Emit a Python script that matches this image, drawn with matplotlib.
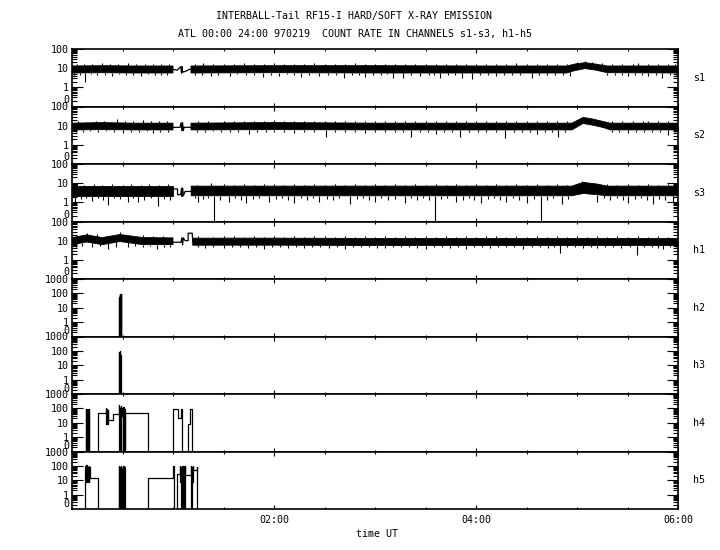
import numpy as np
import matplotlib
matplotlib.use("Agg")
import matplotlib.pyplot as plt
import matplotlib.transforms as mtransforms
from matplotlib.ticker import LogLocator, NullFormatter, MultipleLocator, FixedLocator

plt.rcParams['font.family'] = 'DejaVu Sans Mono'
plt.rcParams['font.size'] = 7.2

# ---- soft channels and h1: noisy band (knots), gap trace, dips and peaks (hours UT, counts) ----
# NaN in a band list = no data (gap around 01:00-01:10)
s1_t = [0.0, 0.3, 0.6, 1.0, 1.01, 1.17, 1.178, 2.0, 3.0, 4.0, 4.9, 4.98, 5.08, 5.18, 5.3, 6.0]
s1_lo = [5.6, 5.8, 5.6, 5.6, np.nan, np.nan, 5.6, 5.8, 5.6, 5.6, 5.6, 7.5, 9.5, 8.0, 5.8, 5.6]
s1_hi = [13.0, 13.5, 13.0, 13.0, np.nan, np.nan, 13.0, 13.5, 13.5, 13.0, 13.0, 16.5, 19.5, 16.5, 13.0, 13.0]
s1_gap_t = [1.0, 1.04, 1.076, 1.085, 1.09, 1.095, 1.102, 1.12, 1.162, 1.178]
s1_gap_v = [8.7, 7.8, 12.0, 5.4, 12.0, 6.0, 6.6, 6.6, 8.7, 8.7]
s1_dip_t = [0.02, 0.08, 0.13, 0.19, 0.25, 0.33, 0.4, 0.47, 0.53, 0.6, 0.68, 0.75, 0.82, 0.88, 0.94,
            1.22, 1.29, 1.38, 1.45, 1.56, 1.63, 1.72, 1.8, 1.89, 1.97, 2.05, 2.13, 2.2, 2.27, 2.35,
            2.45, 2.53, 2.61, 2.69, 2.77, 2.84, 2.9, 2.98, 3.06, 3.12, 3.18, 3.28, 3.36, 3.45, 3.53,
            3.58, 3.64, 3.72, 3.79, 3.86, 3.96, 4.04, 4.12, 4.2, 4.28, 4.36, 4.44, 4.55, 4.62, 4.7,
            4.78, 4.86, 4.93, 5.3, 5.38, 5.45, 5.5, 5.57, 5.64, 5.7, 5.78, 5.84, 5.92, 5.98]
s1_dip_v = [4.3, 4.6, 1.8, 4.7, 4.2, 4.6, 4.1, 4.8, 4.4, 4.2, 4.0, 4.7, 4.4, 4.2, 4.6,
            4.4, 4.6, 4.0, 4.6, 4.0, 4.7, 4.3, 4.6, 3.4, 4.6, 4.1, 4.7, 4.4, 3.4, 4.6,
            4.1, 4.6, 4.4, 3.2, 4.6, 4.2, 3.6, 4.6, 4.3, 4.7, 3.2, 2.9, 4.6, 3.9, 4.4,
            4.6, 3.2, 4.4, 4.6, 3.1, 2.7, 4.6, 4.2, 3.9, 4.6, 4.4, 4.6, 2.9, 4.4, 4.6,
            4.2, 4.6, 3.7, 4.6, 4.4, 4.2, 4.1, 4.6, 4.4, 3.9, 4.6, 2.9, 4.4, 4.6]
s1_peak_t = [0.05, 0.12, 0.2, 0.3, 0.38, 0.46, 0.55, 0.63, 0.72, 0.8, 0.88, 0.96,
             1.22, 1.3, 1.4, 1.5, 1.6, 1.7, 1.8, 1.9, 2.0, 2.1, 2.2, 2.3, 2.4, 2.5, 2.6, 2.7,
             2.8, 2.9, 3.0, 3.1, 3.2, 3.3, 3.4, 3.5, 3.6, 3.7, 3.8, 3.9, 4.0, 4.1, 4.2, 4.3,
             4.4, 4.5, 4.6, 4.7, 4.8, 4.9, 5.0, 5.08, 5.15, 5.25, 5.35, 5.45, 5.55, 5.6, 5.7,
             5.8, 5.9, 5.97]
s1_peak_v = [16, 17, 16, 19, 16, 17, 18, 16, 17, 16, 17, 16,
             17, 18, 16, 17, 16, 18, 16, 17, 18, 16, 17, 16, 18, 16, 17, 16,
             18, 16, 17, 16, 17, 16, 17, 16, 17, 16, 17, 16, 17, 16, 17, 16,
             18, 16, 17, 16, 17, 17, 21, 24, 22, 18, 16, 17, 16, 18, 16,
             17, 17, 16]

s2_t = [0.0, 0.3, 0.6, 1.0, 1.01, 1.17, 1.178, 2.0, 3.0, 4.0, 4.95, 5.06, 5.16, 5.26, 5.33, 6.0]
s2_lo = [6.0, 6.2, 6.0, 6.0, np.nan, np.nan, 6.0, 6.2, 6.0, 6.0, 6.0, 13.0, 10.5, 8.0, 6.0, 6.0]
s2_hi = [13.5, 14.5, 13.5, 13.5, np.nan, np.nan, 13.5, 14.5, 13.5, 13.5, 13.5, 27.0, 22.0, 16.5, 13.5, 13.5]
s2_gap_t = [1.0, 1.07, 1.08, 1.088, 1.095, 1.102, 1.11, 1.16, 1.178]
s2_gap_v = [8.2, 8.2, 14.4, 5.5, 14.4, 5.5, 8.2, 8.2, 8.2]
s2_dip_t = [0.04, 0.11, 0.18, 0.26, 0.34, 0.42, 0.5, 0.58, 0.66, 0.74, 0.8, 0.87, 0.95,
            1.24, 1.32, 1.4, 1.48, 1.56, 1.64, 1.75, 1.83, 1.92, 2.0, 2.1, 2.2, 2.3, 2.4, 2.51,
            2.6, 2.7, 2.8, 2.9, 3.0, 3.1, 3.2, 3.28, 3.36, 3.45, 3.52, 3.6, 3.68, 3.76, 3.84,
            3.93, 4.02, 4.1, 4.2, 4.29, 4.38, 4.46, 4.53, 4.6, 4.68, 4.75, 4.81, 4.88, 5.35,
            5.42, 5.5, 5.58, 5.66, 5.74, 5.82, 5.9, 5.97]
s2_dip_v = [4.8, 4.7, 5.0, 4.6, 5.0, 4.8, 4.2, 4.9, 4.6, 5.0, 4.4, 4.8, 4.6,
            4.9, 4.6, 5.0, 4.7, 4.9, 4.6, 3.6, 4.8, 4.6, 4.9, 4.6, 4.2, 4.8, 4.6, 2.5,
            4.9, 4.6, 4.8, 4.0, 4.7, 4.9, 4.6, 4.8, 2.5, 4.6, 4.9, 3.8, 4.7, 4.8, 2.6,
            4.6, 4.9, 4.7, 4.6, 2.4, 4.8, 4.6, 4.9, 3.8, 4.7, 4.8, 2.5, 4.6, 4.8,
            4.6, 4.0, 4.9, 4.6, 4.8, 4.6, 3.4, 4.8]
s2_peak_t = [0.06, 0.15, 0.24, 0.32, 0.45, 0.52, 0.6, 0.7, 0.78, 0.86, 0.94,
             1.25, 1.35, 1.5, 1.6, 1.7, 1.8, 1.9, 2.0, 2.1, 2.2, 2.3, 2.4, 2.5, 2.6, 2.7,
             2.8, 2.9, 3.0, 3.1, 3.2, 3.3, 3.4, 3.5, 3.6, 3.7, 3.8, 3.9, 4.0, 4.1, 4.2,
             4.3, 4.4, 4.5, 4.6, 4.7, 4.8, 4.9, 5.35, 5.45, 5.55, 5.65, 5.7, 5.8, 5.9]
s2_peak_v = [17, 16, 18, 17, 21, 18, 17, 19, 17, 18, 17,
             17, 18, 18, 17, 18, 17, 18, 19, 17, 18, 18, 17, 18, 17, 18,
             17, 18, 17, 18, 17, 18, 17, 18, 17, 18, 17, 18, 18, 17, 18,
             17, 18, 17, 18, 17, 18, 17, 17, 18, 17, 18, 18, 17, 18]

s3_t = [0.0, 0.5, 1.0, 1.01, 1.17, 1.18, 2.0, 3.0, 4.0, 4.95, 5.06, 5.2, 5.3, 6.0]
s3_lo = [2.2, 2.2, 2.2, np.nan, np.nan, 2.2, 2.2, 2.2, 2.2, 2.2, 2.9, 2.5, 2.2, 2.2]
s3_hi = [7.0, 7.0, 7.0, np.nan, np.nan, 7.0, 7.0, 7.0, 7.0, 7.0, 11.0, 9.0, 7.0, 7.0]
s3_gap_t = [1.0, 1.045, 1.045, 1.076, 1.085, 1.09, 1.095, 1.102, 1.12, 1.175, 1.18]
s3_gap_v = [5.0, 5.0, 2.5, 2.5, 5.5, 2.0, 5.5, 2.2, 3.7, 3.7, 3.7]
s3_dip_t = [0.03, 0.09, 0.14, 0.2, 0.26, 0.31, 0.36, 0.42, 0.48, 0.55, 0.6, 0.65, 0.71, 0.78, 0.85,
            0.91, 0.97, 1.22, 1.25, 1.3, 1.35, 1.41, 1.47, 1.55, 1.61, 1.67, 1.72, 1.79, 1.85,
            1.95, 2.02, 2.08, 2.14, 2.2, 2.27, 2.33, 2.39, 2.45, 2.52, 2.58, 2.64, 2.75, 2.82,
            2.88, 2.94, 3.0, 3.06, 3.13, 3.2, 3.3, 3.36, 3.42, 3.48, 3.53, 3.59, 3.65, 3.71,
            3.8, 3.87, 3.93, 3.98, 4.05, 4.12, 4.18, 4.24, 4.3, 4.37, 4.43, 4.5, 4.57, 4.64,
            4.7, 4.76, 4.85, 4.91, 5.2, 5.27, 5.33, 5.4, 5.46, 5.5, 5.57, 5.63, 5.69, 5.75,
            5.81, 5.87, 5.95]
s3_dip_v = [1.0, 1.5, 1.7, 1.2, 1.6, 1.4, 0.75, 1.7, 1.5, 1.1, 1.6, 1.0, 1.4, 1.7, 0.65,
            1.5, 1.3, 1.6, 1.0, 1.5, 1.7, 0.0, 1.4, 1.0, 1.6, 1.3, 0.9, 1.5, 1.7,
            1.1, 1.5, 1.7, 1.3, 0.9, 1.6, 1.4, 1.7, 1.0, 1.5, 1.3, 1.6, 0.8, 1.5,
            1.7, 1.4, 1.0, 1.6, 1.3, 1.5, 0.9, 1.7, 1.4, 1.6, 1.3, 0.0, 1.5, 1.7,
            1.0, 1.4, 1.6, 1.3, 0.9, 1.5, 1.7, 1.4, 1.0, 1.6, 1.3, 0.9, 1.5, 0.0,
            1.4, 1.7, 0.8, 1.5, 1.0, 1.6, 1.4, 1.7, 1.3, 0.9, 1.5, 1.6, 1.4, 0.8,
            1.5, 1.3, 1.0]
s3_peak_t = [0.05, 0.12, 0.22, 0.3, 0.4, 0.5, 0.58, 0.68, 0.76, 0.86, 0.95,
             1.24, 1.38, 1.5, 1.6, 1.7, 1.8, 1.9, 2.0, 2.1, 2.2, 2.3, 2.4, 2.5, 2.6, 2.7,
             2.8, 2.9, 3.0, 3.1, 3.2, 3.3, 3.4, 3.5, 3.6, 3.7, 3.8, 3.9, 4.0, 4.1, 4.2,
             4.3, 4.4, 4.5, 4.6, 4.7, 4.8, 4.9, 5.05, 5.3, 5.4, 5.5, 5.6, 5.7, 5.8, 5.9]
s3_peak_v = [10, 8.5, 9, 8.5, 9, 8.5, 9, 8.5, 9, 8.5, 9,
             8.5, 10, 9, 8.5, 9, 8.5, 9, 9, 8.5, 9, 8.5, 9, 8.5, 9, 8.5,
             9, 8.5, 9, 8.5, 9, 8.5, 9, 8.5, 9, 8.5, 9, 8.5, 9, 8.5, 9,
             8.5, 9, 8.5, 9, 8.5, 9, 8.5, 13, 9, 8.5, 9, 8.5, 9, 8.5, 9]

h1_t = [0.0, 0.145, 0.3, 0.475, 0.7, 1.0, 1.01, 1.19, 1.195, 2.0, 3.0, 4.0, 5.0, 6.0]
h1_lo = [6.2, 8.5, 6.2, 9.0, 6.2, 6.2, np.nan, np.nan, 5.8, 5.8, 5.6, 5.6, 5.6, 5.6]
h1_hi = [14.5, 20.0, 14.5, 21.0, 14.5, 14.0, np.nan, np.nan, 13.5, 13.5, 13.0, 13.0, 13.0, 13.0]
h1_gap_t = [1.0, 1.08, 1.088, 1.095, 1.102, 1.12, 1.15, 1.15, 1.19, 1.195]
h1_gap_v = [8.3, 8.3, 14.0, 6.0, 14.0, 10.0, 10.0, 24.5, 24.5, 10.0]
h1_dip_t = [0.04, 0.1, 0.2, 0.28, 0.36, 0.44, 0.55, 0.62, 0.7, 0.77, 0.84, 0.91, 0.97,
            1.25, 1.32, 1.4, 1.5, 1.58, 1.66, 1.74, 1.82, 1.9, 1.98, 2.06, 2.14, 2.22, 2.3,
            2.38, 2.46, 2.54, 2.62, 2.7, 2.78, 2.86, 2.94, 3.02, 3.1, 3.18, 3.26, 3.34, 3.42,
            3.5, 3.58, 3.66, 3.74, 3.82, 3.9, 3.98, 4.06, 4.14, 4.22, 4.3, 4.38, 4.47, 4.55,
            4.63, 4.71, 4.77, 4.83, 4.9, 4.98, 5.06, 5.14, 5.2, 5.28, 5.36, 5.44, 5.52, 5.59,
            5.66, 5.74, 5.8, 5.85, 5.92, 5.98]
h1_dip_v = [4.6, 5.0, 4.8, 5.1, 3.8, 4.9, 4.6, 5.1, 4.8, 5.0, 3.6, 4.9, 4.6,
            4.6, 4.3, 4.7, 4.1, 4.5, 4.7, 4.3, 4.6, 3.8, 4.5, 4.7, 4.3, 4.6, 4.0,
            4.5, 4.7, 4.3, 4.6, 3.8, 4.6, 4.5, 4.7, 4.3, 4.1, 4.6, 4.5, 4.7, 4.3,
            3.9, 4.5, 4.7, 4.3, 4.6, 3.8, 4.5, 4.7, 4.3, 4.6, 4.5, 4.7, 3.5, 4.5,
            4.7, 4.3, 4.6, 2.2, 4.5, 4.7, 4.3, 4.6, 4.0, 4.5, 4.7, 4.3, 4.6, 1.8,
            4.5, 4.7, 4.3, 3.8, 4.6, 4.5]
h1_peak_t = [0.05, 0.145, 0.25, 0.35, 0.475, 0.6, 0.7, 0.8, 0.9,
             1.25, 1.4, 1.5, 1.6, 1.7, 1.8, 1.9, 2.0, 2.1, 2.2, 2.3, 2.4, 2.5, 2.6, 2.7,
             2.8, 2.9, 3.0, 3.1, 3.2, 3.3, 3.4, 3.5, 3.6, 3.7, 3.8, 3.9, 4.0, 4.1, 4.2,
             4.3, 4.4, 4.5, 4.6, 4.7, 4.8, 4.9, 5.0, 5.1, 5.2, 5.3, 5.4, 5.5, 5.6, 5.7,
             5.8, 5.9]
h1_peak_v = [17, 25, 21, 18, 27, 18, 19, 17, 16.5,
             16.5, 16, 16.5, 18, 16, 16.5, 16, 16.5, 16, 16.5, 16, 16.5, 17, 16, 16.5,
             16, 16.5, 16, 16.5, 16, 17, 16, 16.5, 16, 16.5, 16, 16.5, 16, 16.5, 17,
             16, 16.5, 16, 16.5, 16, 16.5, 16, 18, 16, 16.5, 16, 16.5, 16, 16.5, 16,
             16.5, 16]

# ---- hard channels: step traces (0 = no counts, drawn below the axis) ----
h2_t = [0.0, 0.468, 0.470, 0.472, 0.474, 0.476, 0.478, 0.480, 0.482, 0.484, 0.486, 6.0]
h2_v = [0, 55, 0, 65, 0, 90, 0, 95, 0, 85, 0, 0]

h3_t = [0.0, 0.468, 0.470, 0.472, 0.474, 0.476, 0.478, 0.480, 0.482, 6.0]
h3_v = [0, 80, 0, 100, 0, 55, 0, 50, 0, 0]

h4_t = [0.0, 0.139, 0.142, 0.145, 0.148, 0.152, 0.155, 0.158, 0.161, 0.164, 0.167,
        0.254, 0.337, 0.341, 0.345, 0.349, 0.352, 0.356, 0.409,
        0.465, 0.470, 0.475, 0.480, 0.485, 0.490, 0.495, 0.500, 0.505, 0.510, 0.515, 0.520, 0.525,
        0.756, 1.003, 1.046, 1.076, 1.086, 1.152, 1.172, 1.18, 1.188, 6.0]
h4_v = [0, 90, 0, 80, 0, 95, 0, 70, 0, 85, 0,
        48, 100, 8, 90, 8, 80, 16, 41,
        160, 0, 110, 0, 150, 30, 100, 0, 120, 0, 90, 0, 48,
        0, 91, 23, 91, 0, 8.1, 91, 91, 0, 0]

h5_t = [0.0, 0.132, 0.136, 0.140, 0.144, 0.148, 0.152, 0.156, 0.160, 0.164, 0.168, 0.172, 0.178,
        0.254, 0.465, 0.470, 0.475, 0.480, 0.485, 0.490, 0.495, 0.500, 0.505, 0.510, 0.515, 0.520, 0.525,
        0.756, 1.003, 1.008, 1.043, 1.069, 1.073, 1.077, 1.081, 1.085, 1.089, 1.093, 1.097, 1.101,
        1.105, 1.109, 1.113, 1.117, 1.122, 1.175, 1.180, 1.185, 1.190, 1.195, 1.201, 1.234, 1.236, 6.0]
h5_v = [0, 100, 7.6, 107, 63, 100, 7.6, 90, 63, 100, 7.6, 80, 15.5,
        0, 100, 0, 80, 0, 100, 0, 70, 0, 100, 0, 80, 0, 0,
        15.5, 100, 0, 29, 100, 7.6, 90, 0, 100, 7.6, 80, 0, 100,
        7.6, 90, 0, 100, 23, 100, 0, 90, 7.6, 100, 55, 90, 0, 0]

noisy = {
    's1': (s1_t, s1_lo, s1_hi, s1_gap_t, s1_gap_v, s1_dip_t, s1_dip_v, s1_peak_t, s1_peak_v),
    's2': (s2_t, s2_lo, s2_hi, s2_gap_t, s2_gap_v, s2_dip_t, s2_dip_v, s2_peak_t, s2_peak_v),
    's3': (s3_t, s3_lo, s3_hi, s3_gap_t, s3_gap_v, s3_dip_t, s3_dip_v, s3_peak_t, s3_peak_v),
    'h1': (h1_t, h1_lo, h1_hi, h1_gap_t, h1_gap_v, h1_dip_t, h1_dip_v, h1_peak_t, h1_peak_v),
}
steps = {'h2': (h2_t, h2_v), 'h3': (h3_t, h3_v), 'h4': (h4_t, h4_v), 'h5': (h5_t, h5_v)}
channels = ['s1', 's2', 's3', 'h1', 'h2', 'h3', 'h4', 'h5']

FLOOR = 0.01  # zero counts are drawn below the bottom of the log axis

fig = plt.figure(figsize=(7.2, 5.5), dpi=100)
W, H = 720.0, 550.0
top_px, panel_px = 49.0, 57.5

for i, ch in enumerate(channels):
    bottom = 1 - (top_px + (i + 1) * panel_px) / H
    ax = fig.add_axes([72 / W, bottom, 606 / W, panel_px / H])
    ax.set_yscale('log')
    ax.set_xlim(0, 6)

    if ch in noisy:
        t, lo, hi, gt, gv, dt, dv, pt, pv = noisy[ch]
        t = np.array(t)
        lo = np.array(lo)
        hi = np.array(hi)
        ok = ~np.isnan(lo)
        ax.fill_between(t, lo, hi, color='black', lw=0.6)
        ax.plot(gt, gv, color='black', lw=0.9)
        ax.vlines(dt, np.maximum(dv, FLOOR), np.interp(dt, t[ok], lo[ok]), color='black', lw=0.8)
        ax.vlines(pt, np.interp(pt, t[ok], hi[ok]), pv, color='black', lw=0.8)
        ax.set_ylim(0.1, 100)
        ax.set_yticks([1, 10, 100])
        ax.set_yticklabels(['1', '10', '100'])
    else:
        t, v = steps[ch]
        ax.step(t, np.maximum(v, FLOOR), where='post', color='black', lw=0.9)
        ax.set_ylim(0.1, 1000)
        ax.set_yticks([1, 10, 100, 1000])
        ax.set_yticklabels(['1', '10', '100', '1000'])

    ax.yaxis.set_minor_locator(LogLocator(base=10, subs=np.arange(2, 10)))
    ax.yaxis.set_minor_formatter(NullFormatter())
    trans = mtransforms.blended_transform_factory(ax.transAxes, ax.transData)
    ax.text(-0.005, 0.23, '0', transform=trans, ha='right', va='center', fontsize=7.2)

    ax.xaxis.set_major_locator(FixedLocator([2, 4, 6]))
    ax.xaxis.set_minor_locator(MultipleLocator(0.5))
    ax.tick_params(which='both', direction='in', top=True, right=True, width=0.8)
    ax.tick_params(axis='y', which='major', length=7.7, pad=2.2, labelsize=7.2)
    ax.tick_params(axis='y', which='minor', length=3.4)
    ax.tick_params(axis='x', which='major', length=3.0, pad=4)
    ax.tick_params(axis='x', which='minor', length=1.5)
    for sp in ax.spines.values():
        sp.set_linewidth(1.2)

    if i < len(channels) - 1:
        ax.tick_params(axis='x', labelbottom=False)
    else:
        ax.set_xticklabels(['02:00', '04:00', '06:00'], fontsize=7.2)

    ax.text(1.035, 0.5, ch, transform=ax.transAxes, ha='center', va='center', fontsize=7.2)

fig.text(353.5 / W, 1 - 15.5 / H, 'INTERBALL-Tail RF15-I HARD/SOFT X-RAY EMISSION',
         ha='center', va='center', fontsize=7.2)
fig.text(355 / W, 1 - 34 / H, 'ATL 00:00 24:00 970219  COUNT RATE IN CHANNELS s1-s3, h1-h5',
         ha='center', va='center', fontsize=7.2)
fig.text(377 / W, 1 - 534 / H, 'time UT', ha='center', va='center', fontsize=7.2)

fig.savefig('out.png', dpi=100)
